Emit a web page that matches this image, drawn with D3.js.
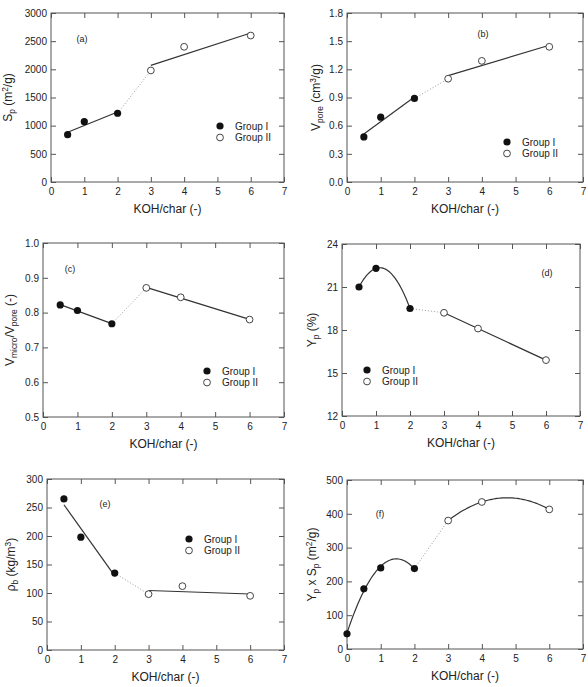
<!DOCTYPE html>
<html>
<head>
<meta charset="utf-8">
<script src="https://cdn.jsdelivr.net/npm/d3@7"></script>
<style>
  body { margin: 0; background: #fff; }
  svg { font-family: "Liberation Sans", Arial, sans-serif; }
</style>
</head>
<body>
<svg id="chart" width="588" height="687"></svg>
<script>
// KOH/char ratios
const xG1 = [0.5, 1, 2]
const xG2 = [3, 4, 6]
const xTicks = [0, 1, 2, 3, 4, 5, 6, 7]

// (a) specific surface area
const spG1 = [840, 1070, 1220]
const spG2 = [1980, 2400, 2600]
// (b) pore volume
const vporeG1 = [0.48, 0.69, 0.89]
const vporeG2 = [1.10, 1.29, 1.44]
// (c) micro / total pore volume
const ratioG1 = [0.822, 0.806, 0.768]
const ratioG2 = [0.871, 0.844, 0.780]
// (d) yield
const yieldG1 = [21.0, 22.3, 19.5]
const yieldG2 = [19.2, 18.1, 15.9]
// (e) bulk density
const rhoG1 = [265, 198, 135]
const rhoG2 = [98, 112, 95]
// (f) yield x surface area (includes the char at KOH/char = 0)
const xF1 = [0, 0.5, 1, 2]
const ysG1 = [45, 178, 240, 238]
const ysG2 = [380, 435, 413]

const panels = [
  { tag: '(a)', box: [51, 13, 284, 182], y: [0, 3000], yt: [0, 500, 1000, 1500, 2000, 2500, 3000], fmt: d3.format('d'),
    lab: [['S', ''], ['p', 'sub'], [' (m', ''], ['2', 'sup'], ['/g)', '']], labX: 12,
    x1: xG1, y1: spG1, x2: xG2, y2: spG2, deg: [1, 1], legend: [169, 113], tagPos: [31, 26] },
  { tag: '(b)', box: [347, 13, 583, 182], y: [0, 1.8], yt: [0, 0.3, 0.6, 0.9, 1.2, 1.5, 1.8], fmt: d3.format('.1f'),
    lab: [['V', ''], ['pore', 'sub'], [' (cm', ''], ['3', 'sup'], ['/g)', '']], labX: 320,
    x1: xG1, y1: vporeG1, x2: xG2, y2: vporeG2, deg: [1, 1], legend: [160, 129], tagPos: [136, 21] },
  { tag: '(c)', box: [43, 243, 284, 417], y: [0.5, 1.0], yt: [0.5, 0.6, 0.7, 0.8, 0.9, 1.0], fmt: d3.format('.1f'),
    lab: [['V', ''], ['micro', 'sub'], ['/V', ''], ['pore', 'sub'], [' (-)', '']], labX: 14,
    x1: xG1, y1: ratioG1, x2: xG2, y2: ratioG2, deg: [1, 1], legend: [164, 128], tagPos: [27, 26] },
  { tag: '(d)', box: [342, 244, 580, 416], y: [12, 24], yt: [12, 15, 18, 21, 24], fmt: d3.format('d'),
    lab: [['Y', ''], ['p', 'sub'], [' (%)', '']], labX: 316,
    x1: xG1, y1: yieldG1, x2: xG2, y2: yieldG2, deg: [2, 1], legend: [25, 126], tagPos: [205, 29] },
  { tag: '(e)', box: [47, 479, 284, 650], y: [0, 300], yt: [0, 50, 100, 150, 200, 250, 300], fmt: d3.format('d'),
    lab: [['\u03C1', ''], ['b', 'sub'], [' (kg/m', ''], ['3', 'sup'], [')', '']], labX: 15,
    x1: xG1, y1: rhoG1, x2: xG2, y2: rhoG2, deg: [1, 1], legend: [142, 60], tagPos: [58, 25] },
  { tag: '(f)', box: [347, 480, 583, 649], y: [0, 500], yt: [0, 100, 200, 300, 400, 500], fmt: d3.format('d'),
    lab: [['Y', ''], ['p', 'sub'], [' x S', ''], ['p', 'sub'], [' (m', ''], ['2', 'sup'], ['/g)', '']], labX: 316,
    x1: xF1, y1: ysG1, x2: xG2, y2: ysG2, deg: [2, 2], legend: null, tagPos: [33, 34] }
]

const frameColor = '#555'
const textColor = '#222'

// least squares polynomial fit (degree 1 or 2), returns coefficients [c0, c1, c2]
function polyfit (xs, ys, deg) {
  const n = deg + 1
  const A = []
  for (let i = 0; i < n; i++) {
    A.push([])
    for (let j = 0; j < n; j++) A[i].push(d3.sum(xs, x => Math.pow(x, i + j)))
    A[i].push(d3.sum(xs, (x, k) => Math.pow(x, i) * ys[k]))
  }
  // gaussian elimination
  for (let i = 0; i < n; i++) {
    for (let r = i + 1; r < n; r++) {
      const f = A[r][i] / A[i][i]
      for (let c = i; c <= n; c++) A[r][c] -= f * A[i][c]
    }
  }
  const c = new Array(n).fill(0)
  for (let i = n - 1; i >= 0; i--) {
    let s = A[i][n]
    for (let j = i + 1; j < n; j++) s -= A[i][j] * c[j]
    c[i] = s / A[i][i]
  }
  return c
}

function fitLine (xs, ys, deg) {
  const c = polyfit(xs, ys, deg)
  const lo = d3.min(xs)
  const hi = d3.max(xs)
  const steps = deg === 1 ? 1 : 60
  return d3.range(steps + 1).map(i => {
    const x = lo + (hi - lo) * i / steps
    return [x, c.reduce((acc, ci, k) => acc + ci * Math.pow(x, k), 0)]
  })
}

// text with sub/superscripts built from tspans
function richText (sel, parts, size) {
  let shift = 0
  parts.forEach(([t, kind]) => {
    const target = kind === 'sub' ? 3 : kind === 'sup' ? -4.5 : 0
    sel.append('tspan')
      .attr('dy', target - shift)
      .attr('font-size', kind ? size * 0.7 : size)
      .text(t)
    shift = target
  })
}

const svg = d3.select('#chart')

panels.forEach(p => {
  const [l, t, r, b] = p.box
  const x = d3.scaleLinear().domain([0, 7]).range([l, r])
  const y = d3.scaleLinear().domain(p.y).range([b, t])
  const g = svg.append('g')

  const styleAxis = (sel) => {
    sel.select('.domain').remove()
    sel.selectAll('.tick line').attr('stroke', frameColor)
    sel.selectAll('.tick text').attr('fill', textColor).attr('font-size', 10)
      .attr('font-family', '"Liberation Sans", Arial, sans-serif')
  }

  g.append('g').attr('transform', `translate(0,${b})`)
    .call(d3.axisBottom(x).tickValues(xTicks).tickSize(-5).tickPadding(6).tickFormat(d3.format('d')))
    .call(styleAxis)
  g.append('g').attr('transform', `translate(0,${t})`)
    .call(d3.axisTop(x).tickValues(xTicks).tickSize(-5).tickFormat(''))
    .call(styleAxis)
  g.append('g').attr('transform', `translate(${l},0)`)
    .call(d3.axisLeft(y).tickValues(p.yt).tickSize(-5).tickPadding(4).tickFormat(p.fmt))
    .call(styleAxis)
  g.append('g').attr('transform', `translate(${r},0)`)
    .call(d3.axisRight(y).tickValues(p.yt).tickSize(-5).tickFormat(''))
    .call(styleAxis)

  g.append('rect').attr('x', l).attr('y', t).attr('width', r - l).attr('height', b - t)
    .attr('fill', 'none').attr('stroke', frameColor).attr('stroke-width', 1)

  const line = d3.line().x(d => x(d[0])).y(d => y(d[1]))

  // dotted link between the two groups
  const last1 = p.x1.length - 1
  g.append('path')
    .attr('d', line([[p.x1[last1], p.y1[last1]], [p.x2[0], p.y2[0]]]))
    .attr('fill', 'none').attr('stroke', '#999').attr('stroke-width', 1).attr('stroke-dasharray', '1,2')

  // fitted curves
  g.append('path').attr('d', line(fitLine(p.x1, p.y1, p.deg[0])))
    .attr('fill', 'none').attr('stroke', '#333').attr('stroke-width', 1.2)
  g.append('path').attr('d', line(fitLine(p.x2, p.y2, p.deg[1])))
    .attr('fill', 'none').attr('stroke', '#333').attr('stroke-width', 1.2)

  // markers
  g.selectAll('.g1').data(p.x1.map((v, i) => [v, p.y1[i]])).join('circle')
    .attr('cx', d => x(d[0])).attr('cy', d => y(d[1])).attr('r', 3.6)
    .attr('fill', '#111')
  g.selectAll('.g2').data(p.x2.map((v, i) => [v, p.y2[i]])).join('circle')
    .attr('cx', d => x(d[0])).attr('cy', d => y(d[1])).attr('r', 3.4)
    .attr('fill', '#fff').attr('stroke', '#444').attr('stroke-width', 1)

  // x axis label
  g.append('text').attr('x', (l + r) / 2).attr('y', b + 31)
    .attr('text-anchor', 'middle').attr('font-size', 12).attr('fill', textColor)
    .text('KOH/char (-)')

  // y axis label
  const yl = g.append('text')
    .attr('transform', `translate(${p.labX},${(t + b) / 2}) rotate(-90)`)
    .attr('text-anchor', 'middle').attr('fill', textColor)
  richText(yl, p.lab, 12)

  // panel tag
  g.append('text').attr('x', l + p.tagPos[0]).attr('y', t + p.tagPos[1] + 3)
    .attr('text-anchor', 'middle').attr('font-size', 9).attr('fill', textColor)
    .text(p.tag)

  // legend
  if (p.legend) {
    const lx = l + p.legend[0]
    const ly = t + p.legend[1]
    g.append('circle').attr('cx', lx).attr('cy', ly).attr('r', 3.6).attr('fill', '#111')
    g.append('circle').attr('cx', lx).attr('cy', ly + 11.5).attr('r', 3.4)
      .attr('fill', '#fff').attr('stroke', '#444')
    g.append('text').attr('x', lx + 15).attr('y', ly + 3.5).attr('font-size', 10).attr('fill', textColor).text('Group I')
    g.append('text').attr('x', lx + 15).attr('y', ly + 15).attr('font-size', 10).attr('fill', textColor).text('Group II')
  }
})
</script>
</body>
</html>
